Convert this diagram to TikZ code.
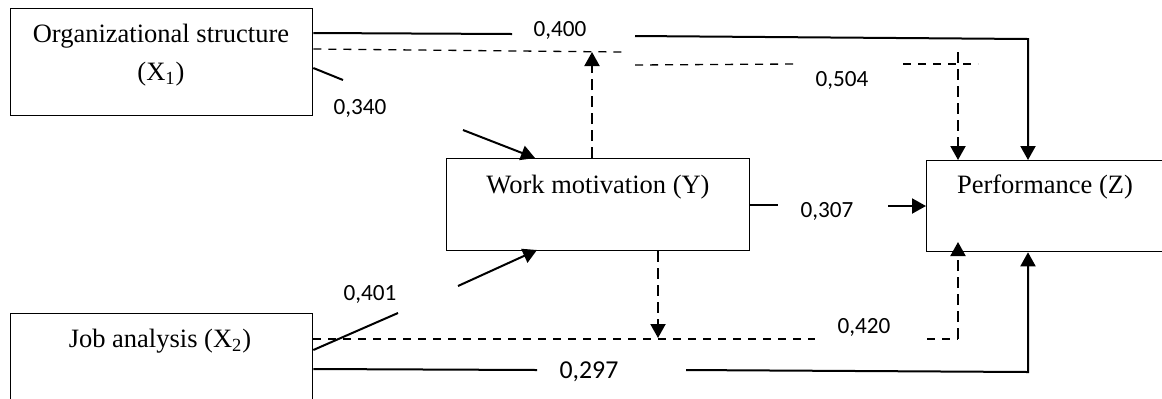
\documentclass[tikz,border=0pt]{standalone}
\usepackage{fontspec}
\setmainfont{Liberation Serif}
\newfontfamily\numfont{Carlito}
\usetikzlibrary{arrows.meta}
\begin{document}
\begin{tikzpicture}[x=0.5pt,y=-0.5pt,
  box/.style={draw, line width=0.65pt, inner sep=0pt, anchor=north west},
  txt/.style={font=\fontsize{13.25}{15}\selectfont, inner sep=0pt},
  lab/.style={font=\numfont\fontsize{11.6}{14}\selectfont, inner sep=0pt},
  conn/.style={line width=1pt},
  hd/.style={line width=0.65pt, dash pattern=on 4pt off 3.5pt},
  vd/.style={line width=1pt, dash pattern=on 5.5pt off 3pt},
  tip/.style={-{Triangle[length=7pt,width=7.5pt]}}
]
\clip (0,0) rectangle (1162,398);
% boxes
\node[box, minimum width=151pt, minimum height=53.5pt] (x1) at (10,8) {};
\node[box, minimum width=151pt, minimum height=55pt] (x2) at (10,313) {};
\node[box, minimum width=151.5pt, minimum height=46pt] (y) at (446,158) {};
\node[box, minimum width=130pt, minimum height=45.5pt] (z) at (926,160) {};
% box texts
\node[txt] (t1) at (161,36) {Organizational structure};
\node[txt] (t1b) at (161,74) {(X\textsubscript{1})};
\node[txt] (t2) at (160,341) {Job analysis (X\textsubscript{2})};
\node[txt] (ty) at (598,187) {Work motivation (Y)};
\node[txt] (tz) at (1045,187) {Performance (Z)};
% labels
\node[lab] (l400) at (560,30) {0,400};
\node[lab] (l504) at (842,80) {0,504};
\node[lab] (l340) at (360,108) {0,340};
\node[lab] (l401) at (370,294) {0,401};
\node[lab] (l307) at (827,211) {0,307};
\node[lab] (l420) at (864,327) {0,420};
\node[lab, font=\numfont\fontsize{12.9}{14}\selectfont] (l297) at (589,372) {0,297};
% coordinates
\coordinate (a1) at (512,34);
\coordinate (a2) at (635,36);
\coordinate (a3) at (1028,39);
\coordinate (b1) at (622,52);
\coordinate (b2) at (592,52);
\coordinate (b3) at (635,65);
\coordinate (b4) at (793,64);
\coordinate (b5) at (903,64);
\coordinate (b6) at (978,64);
\coordinate (b7) at (958,52);
\coordinate (c1) at (343,80);
\coordinate (c2) at (463,130);
\coordinate (c3) at (535,158);
\coordinate (e1) at (398,313);
\coordinate (e2) at (458,286);
\coordinate (e3) at (537,250);
\coordinate (f1) at (815,339);
\coordinate (f2) at (927,339);
\coordinate (f3) at (958,339);
\coordinate (f4) at (958,242);
\coordinate (f5) at (658,338);
\coordinate (g1) at (537,370);
\coordinate (g2) at (686,370);
\coordinate (g3) at (1028,372);
\coordinate (h1) at (778,205);
\coordinate (h2) at (888,206);
% X1 -> Z (0,400)
\draw[conn] (x1.east |- 0,33) -- (a1);
\draw[conn, tip] (a2) -- (a3) -- (a3 |- z.north);
% X1 -> Z via Y (0,504)
\draw[hd] (x1.east |- 0,49) -- (b1);
\draw[vd, tip] (y.north -| b2) -- (b2);
\draw[hd] (b3) -- (b4);
\draw[hd] (b5) -- (b6);
\draw[vd, tip] (b7) -- (b7 |- z.north);
% X1 -> Y (0,340)
\draw[conn] (x1.east |- 0,68) -- (c1);
\draw[conn, tip] (c2) -- (c3);
% X2 -> Y (0,401)
\draw[conn] (x2.east |- 0,350) -- (e1);
\draw[conn, tip] (e2) -- (e3);
% X2 -> Z via Y (0,420)
\draw[hd] (x2.east |- 0,339) -- (f1);
\draw[hd] (f2) -- (f3);
\draw[vd, tip] (f3) -- (f4);
\draw[vd, tip] (y.south -| f5) -- (f5);
% X2 -> Z (0,297)
\draw[conn] (x2.east |- 0,369) -- (g1);
\draw[conn, tip] (g2) -- (g3) -- (g3 |- z.south);
% Y -> Z (0,307)
\draw[conn] (y.east |- 0,205) -- (h1);
\draw[conn, tip] (h2) -- (z.west |- h2);
\end{tikzpicture}
\end{document}
